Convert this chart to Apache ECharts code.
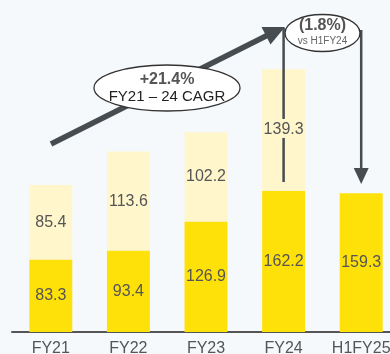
<!DOCTYPE html>
<html><head><meta charset="utf-8">
<script src="https://cdn.jsdelivr.net/npm/echarts@6/dist/echarts.min.js"></script>
<style>html,body{margin:0;padding:0;background:#F5F9FC;}#c{width:390px;height:354px;}</style>
</head><body><div id="c"></div>
<script>
var categories = ['FY21', 'FY22', 'FY23', 'FY24', 'H1FY25'];
var baseValues = [83.3, 93.4, 126.9, 162.2, 159.3];
var topValues = [85.4, 113.6, 102.2, 139.3, null];
var cagrText = ['+21.4%', 'FY21 \u2013 24 CAGR'];
var changeText = ['(1.8%)', 'vs H1FY24'];

var FONT = '"Liberation Sans", Arial, sans-serif';
var chart = echarts.init(document.getElementById('c'), null, {renderer: 'canvas'});
var labelStyle = {show: true, position: 'inside', color: '#555', fontSize: 16, fontFamily: FONT};
var topData = topValues.map(function (v) { return v === null ? '-' : v; });
chart.setOption({
  backgroundColor: '#F5F9FC',
  animation: false,
  grid: {left: 12, right: -10, top: 27, bottom: 22, containLabel: false, outerBoundsMode: 'none'},
  xAxis: {
    type: 'category', data: categories,
    axisLine: {lineStyle: {color: '#555', width: 2}},
    axisTick: {show: false},
    axisLabel: {color: '#555', fontSize: 16, fontFamily: FONT, margin: 9}
  },
  yAxis: {type: 'value', min: 0, max: 350, show: false, splitLine: {show: false}},
  series: [
    {type: 'bar', stack: 'a', data: baseValues, barWidth: 43, itemStyle: {color: '#FFE10A'}, label: labelStyle},
    {type: 'bar', stack: 'a', data: topData, barWidth: 43, itemStyle: {color: '#FFF6CC'}, label: labelStyle}
  ]
});

var xFY24 = chart.convertToPixel({xAxisIndex: 0}, 'FY24');
var xH1 = chart.convertToPixel({xAxisIndex: 0}, 'H1FY25');
var yLbl = chart.convertToPixel({yAxisIndex: 0}, baseValues[3] + topValues[3] / 2);
var dark = '#464C50';
chart.setOption({
  graphic: [
    {type: 'line', shape: {x1: 51, y1: 144, x2: 268, y2: 35}, style: {stroke: dark, lineWidth: 5.5}, z: 10},
    {type: 'polygon', shape: {points: [[285, 27], [270.5, 44.5], [261.5, 27]]}, style: {fill: dark}, z: 10},
    {type: 'ellipse', shape: {cx: 167, cy: 88, rx: 73, ry: 23}, style: {fill: '#fff', stroke: '#333', lineWidth: 1.3}, z: 11},
    {type: 'text', x: 167, y: 80, style: {text: cagrText[0], font: 'bold 16px ' + FONT, fill: '#555', align: 'center', verticalAlign: 'middle'}, z: 12},
    {type: 'text', x: 167, y: 97, style: {text: cagrText[1], font: '15px ' + FONT, fill: '#222', align: 'center', verticalAlign: 'middle'}, z: 12},
    {type: 'line', shape: {x1: xFY24, y1: 28, x2: xFY24, y2: yLbl - 11}, style: {stroke: dark, lineWidth: 2.5}, z: 10},
    {type: 'line', shape: {x1: xFY24, y1: yLbl + 8, x2: xFY24, y2: 182}, style: {stroke: dark, lineWidth: 2.5}, z: 10},
    {type: 'line', shape: {x1: xH1, y1: 30, x2: xH1, y2: 170}, style: {stroke: dark, lineWidth: 2.5}, z: 10},
    {type: 'polygon', shape: {points: [[xH1 - 7.5, 168], [xH1 + 7.5, 168], [xH1, 184]]}, style: {fill: dark}, z: 10},
    {type: 'ellipse', shape: {cx: 322.5, cy: 33, rx: 37.5, ry: 18.5}, style: {fill: '#fff', stroke: '#333', lineWidth: 1.3}, z: 11},
    {type: 'text', x: 322.5, y: 26, style: {text: changeText[0], font: 'bold 16px ' + FONT, fill: '#555', align: 'center', verticalAlign: 'middle'}, z: 12},
    {type: 'text', x: 322.5, y: 41, style: {text: changeText[1], font: '10px ' + FONT, fill: '#666', align: 'center', verticalAlign: 'middle'}, z: 12}
  ]
});
</script></body></html>
